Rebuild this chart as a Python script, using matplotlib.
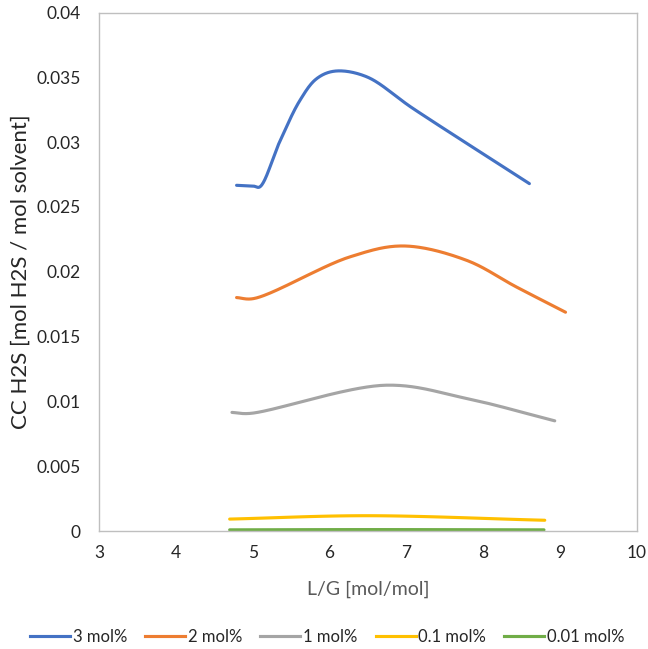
import matplotlib
matplotlib.use("Agg")
import matplotlib.pyplot as plt
from matplotlib.lines import Line2D
import numpy as np

plt.rcParams['font.family'] = ['Lato', 'DejaVu Sans']

# Liquid-to-gas ratio (x) and cyclic capacity of H2S (y) for each inlet H2S level
series_names = ["3 mol%", "2 mol%", "1 mol%", "0.1 mol%", "0.01 mol%"]
series_colors = ["#4472C4", "#ED7D31", "#A5A5A5", "#FFC000", "#70AD47"]

lg_3 = [4.79, 5.01, 5.09, 5.35, 5.61, 5.83, 6.07, 6.48, 7.09, 8.60]
cc_3 = [0.02667, 0.02661, 0.02654, 0.03002, 0.03318, 0.03489, 0.03548, 0.03505,
        0.03258, 0.0268]

lg_2 = [4.79, 5.01, 6.26, 6.96, 7.78, 8.43, 9.07]
cc_2 = [0.01801, 0.01793, 0.02114, 0.02199, 0.02089, 0.01883, 0.01688]

lg_1 = [4.73, 4.96, 6.74, 7.78, 8.93]
cc_1 = [0.00915, 0.00907, 0.01125, 0.01023, 0.0085]

lg_01 = [4.70, 6.48, 8.80]
cc_01 = [0.00092, 0.00118, 0.00083]

lg_001 = [4.70, 6.50, 8.79]
cc_001 = [0.00009, 0.00011, 0.00009]

all_x = [lg_3, lg_2, lg_1, lg_01, lg_001]
all_y = [cc_3, cc_2, cc_1, cc_01, cc_001]

x_ticks = [3, 4, 5, 6, 7, 8, 9, 10]
y_ticks = [0, 0.005, 0.01, 0.015, 0.02, 0.025, 0.03, 0.035, 0.04]
y_tick_labels = ["0", "0.005", "0.01", "0.015", "0.02", "0.025", "0.03", "0.035", "0.04"]

# screen scale (pixels per data unit) used to balance x and y when smoothing
SX, SY = 76.86, 12975.0


def smooth_curve(xs, ys, per_seg=40):
    """Centripetal Catmull-Rom spline through the points."""
    P = np.column_stack([np.asarray(xs, float) * SX, np.asarray(ys, float) * SY])
    P = np.vstack([2 * P[0] - P[1], P, 2 * P[-1] - P[-2]])
    out = []
    for i in range(1, len(P) - 2):
        p0, p1, p2, p3 = P[i - 1], P[i], P[i + 1], P[i + 2]
        t0 = 0.0
        t1 = t0 + np.linalg.norm(p1 - p0) ** 0.5
        t2 = t1 + np.linalg.norm(p2 - p1) ** 0.5
        t3 = t2 + np.linalg.norm(p3 - p2) ** 0.5
        last = i == len(P) - 3
        t = np.linspace(t1, t2, per_seg, endpoint=last)[:, None]
        a1 = (t1 - t) / (t1 - t0) * p0 + (t - t0) / (t1 - t0) * p1
        a2 = (t2 - t) / (t2 - t1) * p1 + (t - t1) / (t2 - t1) * p2
        a3 = (t3 - t) / (t3 - t2) * p2 + (t - t2) / (t3 - t2) * p3
        b1 = (t2 - t) / (t2 - t0) * a1 + (t - t0) / (t2 - t0) * a2
        b2 = (t3 - t) / (t3 - t1) * a2 + (t - t1) / (t3 - t1) * a3
        c = (t2 - t) / (t2 - t1) * b1 + (t - t1) / (t2 - t1) * b2
        out.append(c)
    pts = np.vstack(out)
    return pts[:, 0] / SX, pts[:, 1] / SY


fig = plt.figure(figsize=(6.48, 6.49), dpi=100)
ax = fig.add_axes([0.1528, 0.1818, 0.8302, 0.7989])

for xs, ys, col in zip(all_x, all_y, series_colors):
    cx, cy = smooth_curve(xs, ys)
    ax.plot(cx, cy, color=col, linewidth=2.25, solid_capstyle="round",
            solid_joinstyle="round")

ax.set_xlim(3, 10)
ax.set_ylim(0, 0.04)
ax.set_xticks(x_ticks)
ax.set_xticklabels([str(t) for t in x_ticks])
ax.set_yticks(y_ticks)
ax.set_yticklabels(y_tick_labels)
ax.tick_params(length=0, labelsize=12.5, colors="#262626")
ax.tick_params(axis="y", pad=13)
ax.tick_params(axis="x", pad=10)

for sp in ax.spines.values():
    sp.set_color("#BFBFBF")
    sp.set_linewidth(1.0)

ax.set_xlabel("L/G [mol/mol]", fontsize=14, color="#595959", labelpad=14)
ax.set_ylabel("CC H2S [mol H2S / mol solvent]", fontsize=16, color="#262626", labelpad=4)

handles = [Line2D([0], [0], color=c, linewidth=2.25) for c in series_colors]
fig.legend(handles, series_names, loc="center", bbox_to_anchor=(0.505, 0.0185),
           ncol=5, frameon=False, fontsize=12, handlelength=2.4,
           handletextpad=0.15, columnspacing=1.1, labelcolor="#262626")

fig.savefig("out.png", dpi=100)
